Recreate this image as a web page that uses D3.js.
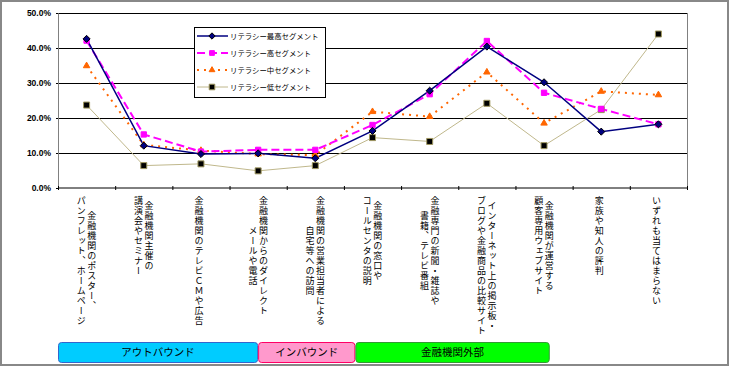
<!DOCTYPE html>
<html><head><meta charset="utf-8">
<script src="https://cdn.jsdelivr.net/npm/d3@7"></script>
<style>
html,body{margin:0;padding:0;background:#fff;}
svg{display:block;}
</style></head>
<body>
<svg id="chart" width="730" height="367"></svg>
<script>
const categories = [
  ["金融機関のポスター、","パンフレット、ホームページ"],
  ["金融機関主催の","講演会やセミナー"],
  ["金融機関のテレビＣＭや広告"],
  ["金融機関からのダイレクト","メールや電話"],
  ["金融機関の営業担当者による","自宅等への訪問"],
  ["金融機関の窓口や","コールセンタの説明"],
  ["金融専門の新聞・雑誌や","書籍、テレビ番組"],
  ["インターネット上の掲示板・","ブログや金融商品の比較サイト"],
  ["金融機関が運営する","顧客専用ウェブサイト"],
  ["家族や知人の評判"],
  ["いずれも当てはまらない"]
];
const seriesNames = ["リテラシー最高セグメント","リテラシー高セグメント","リテラシー中セグメント","リテラシー低セグメント"];
const valuesHighest = [42.6,12.1,9.7,9.9,8.5,16.3,27.8,40.4,30.2,16.1,18.2];
const valuesHigh    = [42.1,15.3,10.4,10.9,10.9,18.0,26.8,42.0,27.2,22.6,18.2];
const valuesMid     = [34.9,12.3,10.7,9.7,9.4,21.8,20.4,33.1,18.5,27.6,26.6];
const valuesLow     = [23.7,6.4,6.9,4.9,6.4,14.4,13.3,24.2,12.1,22.4,44.0];
const yTicks = [0,10,20,30,40,50];
const groupNames = ["アウトバウンド","インバウンド","金融機関外部"];
const groupRanges = [[0,3.5],[3.5,5.2],[5.2,8.6]];

const svg = d3.select("#chart");
const W = 730, H = 367;
const plot = {l:58, r:687, t:13, b:188};

// outer frame
svg.append("rect").attr("x",1).attr("y",1).attr("width",W-3).attr("height",H-3)
  .attr("fill","#fff").attr("stroke","#888").attr("stroke-width",2);

const x = d3.scaleBand().domain(d3.range(categories.length)).range([plot.l, plot.r]).padding(0);
const y = d3.scaleLinear().domain([0,50]).range([plot.b, plot.t]);
const cx = i => x(i) + x.bandwidth()/2;

// gridlines
svg.append("g").selectAll("line").data(yTicks.filter(d=>d>0)).join("line")
  .attr("x1",plot.l).attr("x2",plot.r).attr("y1",d=>y(d)).attr("y2",d=>y(d))
  .attr("stroke","#000").attr("stroke-width",1).attr("shape-rendering","crispEdges");
// plot right border
svg.append("line").attr("x1",plot.r).attr("x2",plot.r).attr("y1",plot.t).attr("y2",plot.b)
  .attr("stroke","#808080").attr("shape-rendering","crispEdges");

// y axis
const yAxis = d3.axisLeft(y).tickValues(yTicks).tickSize(2).tickFormat(d=>d.toFixed(1)+"%");
const gy = svg.append("g").attr("transform",`translate(${plot.l},0)`).call(yAxis);
gy.select(".domain").attr("stroke","#808080");
gy.selectAll(".tick line").attr("stroke","#000");
gy.selectAll(".tick text").attr("x",-7).attr("font-family","'Liberation Sans', Arial, sans-serif")
  .attr("font-size","8.5px").attr("font-weight","bold").attr("fill","#000");

// x axis
const xb = d3.scaleLinear().domain([0,categories.length]).range([plot.l, plot.r]);
const xAxis = d3.axisBottom(xb).tickValues(d3.range(categories.length+1)).tickSize(3).tickFormat("");
const gx = svg.append("g").attr("transform",`translate(0,${plot.b})`).call(xAxis);
gx.select(".domain").attr("stroke","#000").attr("d",`M${plot.l},0H${plot.r}`);
gx.selectAll(".tick line").attr("y1",-2).attr("y2",2).attr("stroke","#000");

// vertical category labels
const pitch = 10, labelTop = 196, colGap = 10.5;
const lab = svg.append("g");
categories.forEach((lines,i)=>{
  const maxLen = d3.max(lines, s=>s.length);
  const ymid = labelTop + maxLen*pitch/2;
  const n = lines.length;
  lines.forEach((s,j)=>{
    const xc = n===1 ? cx(i)-2 : cx(i) + colGap/2 - j*colGap;
    lab.append("text").text(s)
      .attr("x",xc).attr("y",ymid)
      .style("writing-mode","vertical-rl")
      .attr("text-anchor","middle")
      .attr("font-family","'Noto Sans CJK JP', sans-serif")
      .attr("font-size","9px").attr("letter-spacing","1px").attr("fill","#000");
  });
});

// series
const series = [
  {name:seriesNames[0], values:valuesHighest, color:"#000080", width:1.5, dash:null, marker:"diamond", mfill:"#000080", mstroke:"#000"},
  {name:seriesNames[1], values:valuesHigh, color:"#FF00FF", width:2, dash:"8,4", marker:"square", mfill:"#FF00FF", mstroke:"#FF00FF"},
  {name:seriesNames[2], values:valuesMid, color:"#FF6600", width:2, dash:"2,5", marker:"triangle", mfill:"#FF6600", mstroke:"#FF6600"},
  {name:seriesNames[3], values:valuesLow, color:"#C0B88C", width:1, dash:null, marker:"square", mfill:"#000", mstroke:"#A09860"}
];
const symSize = {diamond:32, square:36, triangle:30};
const drawOrder = [3,2,1,0];
const line = d3.line().x((d,i)=>cx(i)).y(d=>y(d));
drawOrder.forEach(k=>{
  const s = series[k];
  svg.append("path").attr("d",line(s.values)).attr("fill","none")
    .attr("stroke",s.color).attr("stroke-width",s.width)
    .attr("stroke-dasharray",s.dash);
});
drawOrder.forEach(k=>{
  const s = series[k];
  const sym = d3.symbol().type(s.marker==="diamond"?d3.symbolDiamond2:(s.marker==="triangle"?d3.symbolTriangle2:d3.symbolSquare2))
    .size(k===3?46:symSize[s.marker]);
  svg.append("g").selectAll("path").data(s.values).join("path")
    .attr("d",sym).attr("transform",(d,i)=>`translate(${cx(i)},${y(d)})`)
    .attr("fill",s.mfill).attr("stroke",s.mstroke).attr("stroke-width",1);
});

// legend
const lg = svg.append("g");
lg.append("rect").attr("x",194.5).attr("y",27.5).attr("width",131).attr("height",70)
  .attr("fill","#fff").attr("stroke","#000").attr("stroke-width",1);
series.forEach((s,k)=>{
  const ly = 36 + k*17;
  lg.append("line").attr("x1",197).attr("x2",228).attr("y1",ly).attr("y2",ly)
    .attr("stroke",s.color).attr("stroke-width",s.width).attr("stroke-dasharray",s.dash);
  const sym = d3.symbol().type(s.marker==="diamond"?d3.symbolDiamond2:(s.marker==="triangle"?d3.symbolTriangle2:d3.symbolSquare2))
    .size(k===3?40:symSize[s.marker]*0.8);
  lg.append("path").attr("d",sym).attr("transform",`translate(212,${ly})`)
    .attr("fill",s.mfill).attr("stroke",s.mstroke);
  lg.append("text").text(s.name).attr("x",230).attr("y",ly).attr("dy","0.35em")
    .attr("font-family","'Noto Sans CJK JP', sans-serif").attr("font-size","7.4px").attr("fill","#000");
});

// group boxes
const groupStyles = [
  {fill:"#00CCFF", stroke:"#3366CC"},
  {fill:"#FF99CC", stroke:"#FF0066"},
  {fill:"#00FF00", stroke:"#339933"}
];
const gb = svg.append("g");
groupNames.forEach((g,i)=>{
  const x0 = xb(groupRanges[i][0])+0.5, x1 = xb(groupRanges[i][1])-0.5;
  gb.append("rect").attr("x",x0).attr("y",342.5).attr("width",x1-x0).attr("height",20)
    .attr("rx",3).attr("ry",3).attr("fill",groupStyles[i].fill).attr("stroke",groupStyles[i].stroke).attr("stroke-width",1);
  gb.append("text").text(g).attr("x",(x0+x1)/2).attr("y",352.5).attr("dy","0.36em")
    .attr("text-anchor","middle").attr("font-family","'Noto Sans CJK JP', sans-serif")
    .attr("font-size","10.5px").attr("fill","#000");
});
</script>
</body></html>
